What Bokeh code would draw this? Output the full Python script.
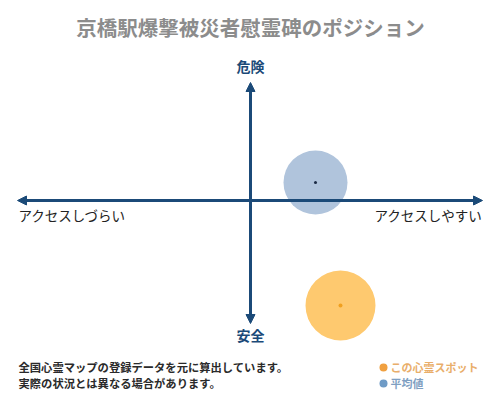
from bokeh.plotting import figure
from bokeh.models import Range1d, Arrow, NormalHead, ColumnDataSource
from bokeh.core.properties import value
from bokeh.embed import file_html
from bokeh.resources import INLINE

# ---- data (units: 1 unit = 1 px, origin = chart centre) ----
title_text = "京橋駅爆撃被災者慰霊碑のポジション"
axis_x_extent = [-233, 232]   # left/right arrow tips
axis_y_extent = [-123, 118]   # bottom/top arrow tips
label_top = "危険"
label_bottom = "安全"
label_left = "アクセスしづらい"
label_right = "アクセスしやすい"

series_names = ["平均値", "この心霊スポット"]
series_x = [65, 90]
series_y = [18, -105]
series_radius = [32, 35]

note_lines = ["全国心霊マップの登録データを元に算出しています。",
              "実際の状況とは異なる場合があります。"]

FONT = "Noto Sans CJK JP"
NAVY = "#1b4a78"

p = figure(width=500, height=400, output_backend="svg", toolbar_location=None,
           x_range=Range1d(-250, 250), y_range=Range1d(-200, 200),
           min_border=0, min_border_left=0, min_border_right=0,
           min_border_top=0, min_border_bottom=0)
p.axis.visible = False
p.grid.visible = False
p.outline_line_color = None
p.background_fill_color = "white"
p.border_fill_color = "white"

# bubbles
circle_colors = ["#b0c4dc", "#fec96f"]
dot_colors = ["#1a2a44", "#f0a020"]
dot_sizes = [3, 4]
src = ColumnDataSource(dict(x=series_x, y=series_y, r=series_radius,
                            c=circle_colors, d=dot_colors, s=dot_sizes))
p.circle(x="x", y="y", radius="r", fill_color="c", line_color=None, source=src)
p.scatter(x="x", y="y", size="s", fill_color="d", line_color=None, source=src)

# axes with arrows
p.add_layout(Arrow(end=NormalHead(size=9, fill_color=NAVY, line_color=NAVY),
                   start=NormalHead(size=9, fill_color=NAVY, line_color=NAVY),
                   x_start=axis_x_extent[0], y_start=0, x_end=axis_x_extent[1], y_end=0,
                   line_color=NAVY, line_width=3))
p.add_layout(Arrow(end=NormalHead(size=9, fill_color=NAVY, line_color=NAVY),
                   start=NormalHead(size=9, fill_color=NAVY, line_color=NAVY),
                   x_start=0, y_start=axis_y_extent[0], x_end=0, y_end=axis_y_extent[1],
                   line_color=NAVY, line_width=3))

# title
p.text(x=[0], y=[174], text=[title_text], text_font=value(FONT), text_font_size="20.5px",
       text_font_style="bold", text_color="#8c8c8c", text_align="center", text_baseline="middle")

# axis labels
p.text(x=[0], y=[135], text=[label_top], text_font=value(FONT), text_font_size="14px",
       text_font_style="bold", text_color=NAVY, text_align="center", text_baseline="middle")
p.text(x=[0], y=[-134], text=[label_bottom], text_font=value(FONT), text_font_size="14px",
       text_font_style="bold", text_color=NAVY, text_align="center", text_baseline="middle")
p.text(x=[axis_x_extent[0] + 1], y=[-14], text=[label_left], text_font=value(FONT),
       text_font_size="13.5px", text_color="#222222", text_align="left", text_baseline="middle")
p.text(x=[axis_x_extent[1]], y=[-14], text=[label_right], text_font=value(FONT),
       text_font_size="13.5px", text_color="#222222", text_align="right", text_baseline="middle")

# notes
p.text(x=[-232, -232], y=[-166, -182], text=note_lines, text_font=value(FONT),
       text_font_size="11.3px", text_font_style="bold", text_color="#2a2a2a",
       text_align="left", text_baseline="middle")

# legend
p.scatter(x=[133, 133], y=[-167, -183], size=8, fill_color=["#f0a040", "#6f9bc6"], line_color=None)
p.text(x=[140, 140], y=[-166, -182], text=[series_names[1], series_names[0]], text_font=value(FONT),
       text_font_size="11px", text_font_style="bold", text_color=["#e9ae6a", "#7f9fc2"],
       text_align="left", text_baseline="middle")

open("out.html", "w").write(file_html(p, INLINE))
